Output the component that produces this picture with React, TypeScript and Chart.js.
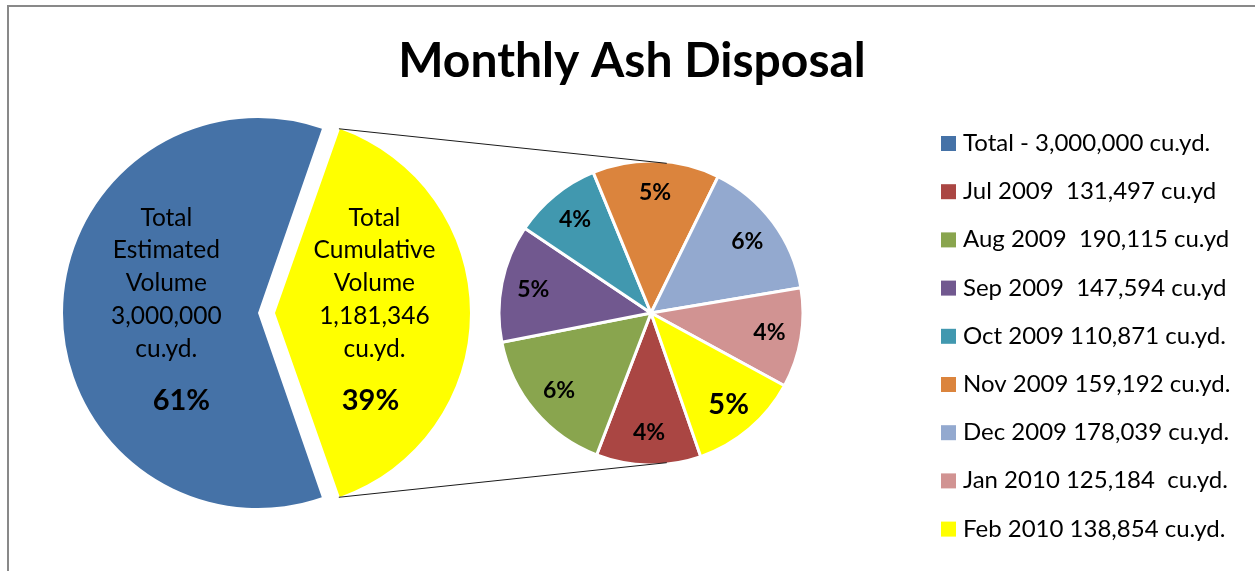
import { useEffect, useRef } from "react";
import { Chart, registerables } from "chart.js";

Chart.register(...registerables);

const W = 1255;
const H = 571;

const TITLE = "Monthly Ash Disposal";

const MAIN_LABELS = ["Total Estimated Volume", "Total Cumulative Volume"];
const MAIN_VALUES = [1818654, 1181346];
const MAIN_COLORS = ["#4572A7", "#FFFF00"];
const MAIN_TEXT = [
  ["Total", "Estimated", "Volume", "3,000,000", "cu.yd."],
  ["Total", "Cumulative", "Volume", "1,181,346", "cu.yd."],
];

const MONTHS = ["Jul 2009", "Aug 2009", "Sep 2009", "Oct 2009", "Nov 2009", "Dec 2009", "Jan 2010", "Feb 2010"];
const MONTH_VALUES = [131497, 190115, 147594, 110871, 159192, 178039, 125184, 138854];
const MONTH_COLORS = ["#AA4643", "#89A54E", "#71588F", "#4198AF", "#DB843D", "#93A9CF", "#D19392", "#FFFF00"];

const LEGEND_LABELS = [
  "Total - 3,000,000 cu.yd.",
  "Jul 2009  131,497 cu.yd",
  "Aug 2009  190,115 cu.yd",
  "Sep 2009  147,594 cu.yd",
  "Oct 2009 110,871 cu.yd.",
  "Nov 2009 159,192 cu.yd.",
  "Dec 2009 178,039 cu.yd.",
  "Jan 2010 125,184  cu.yd.",
  "Feb 2010 138,854 cu.yd.",
];
const LEGEND_COLORS = [MAIN_COLORS[0], ...MONTH_COLORS];

const FONT = "Lato, 'Open Sans', sans-serif";

// layout / style
const MAIN_CENTER = { x: 258, y: 313 };
const MAIN_RADIUS = 195;
const EXPLODE = [0, 68];
const SUB_CENTER = { x: 651, y: 313 };
const SUB_RADIUS = 152;
const SUB_BORDER = 3;
const ROTATION = 160.9;
const LABEL_DIST = [0.47, 0.51];
const PCT_DX = [15, -4];
const LINE_DY = [-87, -55, -22, 11, 44];
const PCT_DY = 97;

const grandTotal = () => MAIN_VALUES.reduce((a, b) => a + b, 0);
const pct = (v: number) => Math.round((v / grandTotal()) * 100) + "%";

function tangentPoint(px: number, py: number, cx: number, cy: number, r: number, sign: number) {
  const dx = cx - px;
  const dy = cy - py;
  const d = Math.hypot(dx, dy);
  const th = Math.atan2(dy, dx);
  const al = Math.asin(Math.min(1, r / d));
  const ang = th + sign * al;
  const L = Math.sqrt(Math.max(0, d * d - r * r));
  return [px + L * Math.cos(ang), py + L * Math.sin(ang)];
}

function radiusFix(arc: any) {
  const off = (arc.options.offset || 0) / 4;
  const circ = arc.endAngle - arc.startAngle;
  return off * (1 - Math.sin(Math.min(Math.PI, circ)));
}

function arcGeom(arc: any) {
  const off = (arc.options.offset || 0) / 4;
  const mid = (arc.startAngle + arc.endAngle) / 2;
  const vx = arc.x + Math.cos(mid) * off;
  const vy = arc.y + Math.sin(mid) * off;
  const r = arc.outerRadius + radiusFix(arc);
  return { vx, vy, mid, r };
}

export default function App() {
  const c1 = useRef<HTMLCanvasElement | null>(null);
  const c2 = useRef<HTMLCanvasElement | null>(null);

  useEffect(() => {
    if (!c1.current || !c2.current) return;

    const framePlugin = {
      id: "frame",
      afterDatasetsUpdate(chart: any) {
        // keep the exploded slice at the same radius as the others
        chart.getDatasetMeta(0).data.forEach((arc: any) => {
          arc.outerRadius = arc.outerRadius - radiusFix(arc);
        });
      },
      beforeDraw(chart: any) {
        const ctx = chart.ctx;
        ctx.save();
        ctx.fillStyle = "#ffffff";
        ctx.fillRect(0, 0, W, H);
        ctx.strokeStyle = "#898989";
        ctx.lineWidth = 2;
        ctx.strokeRect(8, 6, W + 40, H + 40);
        ctx.fillStyle = "#000000";
        ctx.font = `bold 48px ${FONT}`;
        ctx.textAlign = "center";
        ctx.textBaseline = "alphabetic";
        ctx.fillText(TITLE, 632, 77);
        ctx.restore();
      },
      afterDatasetsDraw(chart: any) {
        const ctx = chart.ctx;
        const meta = chart.getDatasetMeta(0);
        ctx.save();
        ctx.fillStyle = "#000000";
        ctx.textAlign = "center";
        ctx.textBaseline = "alphabetic";
        meta.data.forEach((arc: any, i: number) => {
          const g = arcGeom(arc);
          const cx = g.vx + Math.cos(g.mid) * g.r * LABEL_DIST[i];
          const cy = g.vy + Math.sin(g.mid) * g.r * LABEL_DIST[i];
          ctx.font = `24.5px ${FONT}`;
          MAIN_TEXT[i].forEach((t, k) => ctx.fillText(t, cx, cy + LINE_DY[k]));
          ctx.font = `bold 29px ${FONT}`;
          ctx.fillText(pct(MAIN_VALUES[i]), cx + PCT_DX[i], cy + PCT_DY);
        });
        ctx.restore();
      },
    };

    const chart1 = new Chart(c1.current, {
      type: "pie",
      data: {
        labels: MAIN_LABELS,
        datasets: [
          {
            data: MAIN_VALUES,
            backgroundColor: MAIN_COLORS,
            borderWidth: 0,
            offset: EXPLODE,
          } as any,
        ],
      },
      options: {
        responsive: false,
        animation: false,
        events: [],
        rotation: ROTATION,
        radius: MAIN_RADIUS,
        layout: {
          padding: { left: 0, right: W - 2 * MAIN_CENTER.x, top: 2 * MAIN_CENTER.y - H, bottom: 0 },
        },
        plugins: { legend: { display: false }, tooltip: { enabled: false } },
      } as any,
      plugins: [framePlugin],
    });

    const subPlugin = {
      id: "sub",
      afterDatasetsDraw(chart: any) {
        const ctx = chart.ctx;
        // connector lines (tangents from exploded slice corners to the secondary pie)
        const yArc: any = chart1.getDatasetMeta(0).data[1];
        const g = arcGeom(yArc);
        const sArc: any = chart.getDatasetMeta(0).data[0];
        const R2 = sArc.outerRadius - SUB_BORDER / 2;
        const pTop = [g.vx + g.r * Math.cos(yArc.startAngle), g.vy + g.r * Math.sin(yArc.startAngle)];
        const pBot = [g.vx + g.r * Math.cos(yArc.endAngle), g.vy + g.r * Math.sin(yArc.endAngle)];
        const tTop = tangentPoint(pTop[0], pTop[1], sArc.x, sArc.y, R2, -1);
        const tBot = tangentPoint(pBot[0], pBot[1], sArc.x, sArc.y, R2, 1);
        ctx.save();
        ctx.strokeStyle = "#1a1a1a";
        ctx.lineWidth = 1;
        ctx.beginPath();
        ctx.moveTo(pTop[0], pTop[1]);
        ctx.lineTo(tTop[0], tTop[1]);
        ctx.moveTo(pBot[0], pBot[1]);
        ctx.lineTo(tBot[0], tBot[1]);
        ctx.stroke();

        // slice labels
        const meta = chart.getDatasetMeta(0);
        ctx.fillStyle = "#000000";
        ctx.textAlign = "center";
        ctx.textBaseline = "middle";
        meta.data.forEach((arc: any, i: number) => {
          const mid = (arc.startAngle + arc.endAngle) / 2;
          const r = arc.outerRadius * 0.79;
          const x = arc.x + Math.cos(mid) * r;
          const y = arc.y + Math.sin(mid) * r;
          const big = MONTH_COLORS[i].toUpperCase() === "#FFFF00";
          ctx.font = big ? `bold 29px ${FONT}` : `bold 23px ${FONT}`;
          ctx.fillText(pct(MONTH_VALUES[i]), x, y);
        });

        // legend
        ctx.textAlign = "left";
        ctx.textBaseline = "alphabetic";
        ctx.font = `24px ${FONT}`;
        LEGEND_LABELS.forEach((t, i) => {
          const top = 136 + i * 48.2;
          ctx.fillStyle = LEGEND_COLORS[i];
          ctx.fillRect(941, top, 15, 15);
          ctx.fillStyle = "#000000";
          ctx.fillText(t, 963, top + 15);
        });
        ctx.restore();
      },
    };

    const chart2 = new Chart(c2.current, {
      type: "pie",
      data: {
        labels: MONTHS,
        datasets: [
          {
            data: MONTH_VALUES,
            backgroundColor: MONTH_COLORS,
            borderColor: "#ffffff",
            borderWidth: SUB_BORDER,
          },
        ],
      },
      options: {
        responsive: false,
        animation: false,
        events: [],
        rotation: ROTATION,
        radius: SUB_RADIUS,
        layout: {
          padding: { left: 2 * SUB_CENTER.x - W, right: 0, top: 2 * SUB_CENTER.y - H, bottom: 0 },
        },
        plugins: { legend: { display: false }, tooltip: { enabled: false } },
      } as any,
      plugins: [subPlugin],
    });

    return () => {
      chart2.destroy();
      chart1.destroy();
    };
  }, []);

  return (
    <div style={{ position: "absolute", left: 0, top: 0, width: W, height: H, background: "#fff", overflow: "hidden" }}>
      <canvas ref={c1} width={W} height={H} style={{ position: "absolute", left: 0, top: 0 }} />
      <canvas ref={c2} width={W} height={H} style={{ position: "absolute", left: 0, top: 0 }} />
    </div>
  );
}
